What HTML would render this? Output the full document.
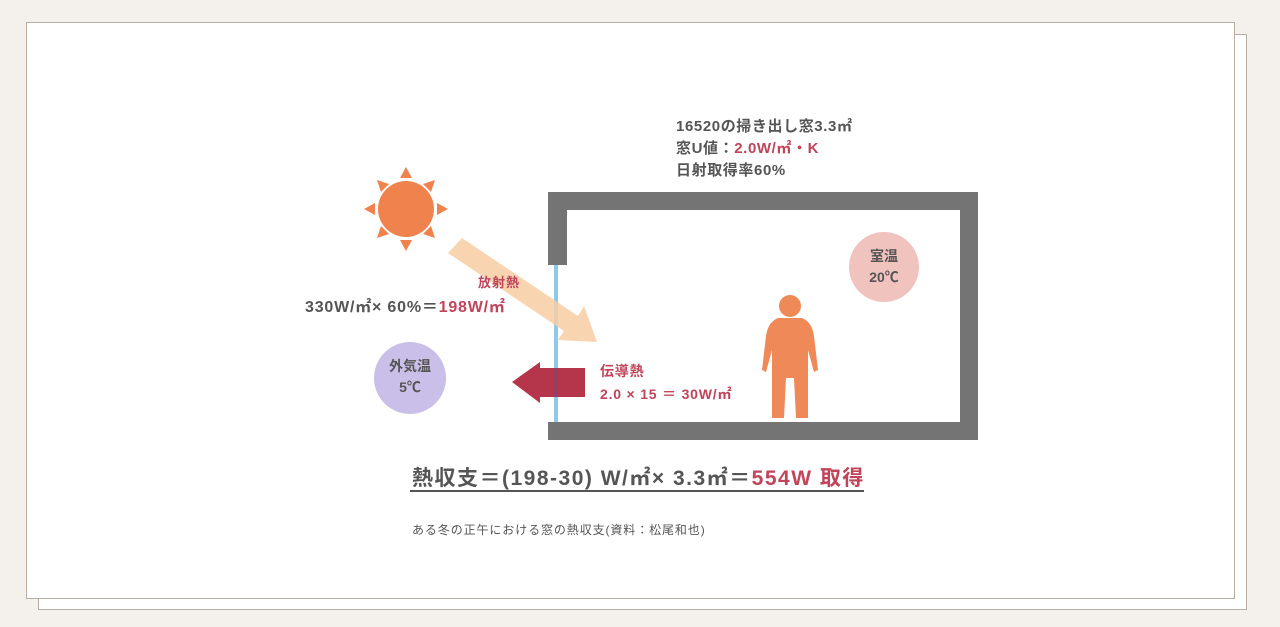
<!DOCTYPE html>
<html><head><meta charset="utf-8"><style>
body{margin:0;width:1280px;height:627px;background:#f4f1ec;position:relative;overflow:hidden;font-family:"Liberation Sans","Noto Sans CJK JP",sans-serif;}
.t{position:absolute;white-space:nowrap;font-weight:bold;color:#555;}
.r{color:#c0445a;}
</style></head><body>
<div style="position:absolute;left:38px;top:34px;width:1207px;height:574px;border:1px solid #b9aea3;background:#fff"></div>
<div style="position:absolute;left:26px;top:22px;width:1207px;height:575px;border:1px solid #b9aea3;background:#fff"></div>
<svg style="position:absolute;left:0;top:0" width="1280" height="627">
<g fill="#747474">
<rect x="548" y="192" width="430" height="18"/>
<rect x="548" y="192" width="19" height="73"/>
<rect x="960" y="192" width="18" height="248"/>
<rect x="548" y="422" width="430" height="18"/>
</g>
<rect x="554" y="265" width="4" height="157" fill="#8ec9ea"/>
<polygon points="462,238 578,316 584,306 597,342 558,340 564,331 448,253" fill="#f8cca3" opacity="0.85"/>
<polygon points="585,368 540,368 540,362 512,382 540,403 540,397 585,397" fill="#b5354a"/>
<rect x="554" y="368" width="4" height="29" fill="#7a4a7a" opacity="0.5"/>
<circle cx="406" cy="209" r="28" fill="#f0824e"/>
<g fill="#f0824e">
<polygon points="406,167 400,178 412,178"/><polygon points="406,251 400,240 412,240"/>
<polygon points="364,209 375,203 375,215"/><polygon points="448,209 437,203 437,215"/>
<polygon points="377,180 389,184 381,192"/><polygon points="435,180 423,184 431,192"/>
<polygon points="377,238 389,234 381,226"/><polygon points="435,238 423,234 431,226"/>
</g>
<circle cx="410" cy="378" r="36" fill="#c9bfe8"/>
<circle cx="884" cy="267" r="35" fill="#f0c3bf"/>
<g fill="#ef8a58">
<circle cx="790" cy="306" r="11"/>
<path d="M778,318 L802,318 Q812,322 814,336 L818,370 L814,372 L808,350 L808,418 L796,418 L794,378 L786,378 L784,418 L772,418 L772,350 L766,372 L762,370 L766,336 Q768,322 778,318Z"/>
</g>
<line x1="410" y1="491" x2="864" y2="491" stroke="#555" stroke-width="2"/>
</svg>
<div class="t" style="left:676px;top:116px;font-size:15px;line-height:22px;letter-spacing:0.6px">16520の掃き出し窓3.3㎡<br>窓U値：<span class="r">2.0W/㎡・K</span><br>日射取得率60%</div>
<div class="t r" style="left:478px;top:272px;font-size:13px;letter-spacing:1px">放射熱</div>
<div class="t" style="left:305px;top:293px;font-size:16px;letter-spacing:0.8px">330W/㎡× 60%＝<span class="r">198W/㎡</span></div>
<div class="t" style="left:386px;top:356px;font-size:14px;line-height:21px;text-align:center;width:48px">外気温<br>5℃</div>
<div class="t" style="left:860px;top:246px;font-size:14px;line-height:21px;text-align:center;width:48px">室温<br>20℃</div>
<div class="t r" style="left:600px;top:360px;font-size:14px;line-height:23px;letter-spacing:0.8px">伝導熱<br>2.0 × 15 ＝ 30W/㎡</div>
<div class="t" style="left:412px;top:462px;font-size:21px;letter-spacing:1.5px">熱収支＝(198-30) W/㎡× 3.3㎡＝<span class="r">554W 取得</span></div>
<div class="t" style="left:412px;top:521px;font-size:12px;font-weight:normal;letter-spacing:0.9px">ある冬の正午における窓の熱収支(資料：松尾和也)</div>
</body></html>
